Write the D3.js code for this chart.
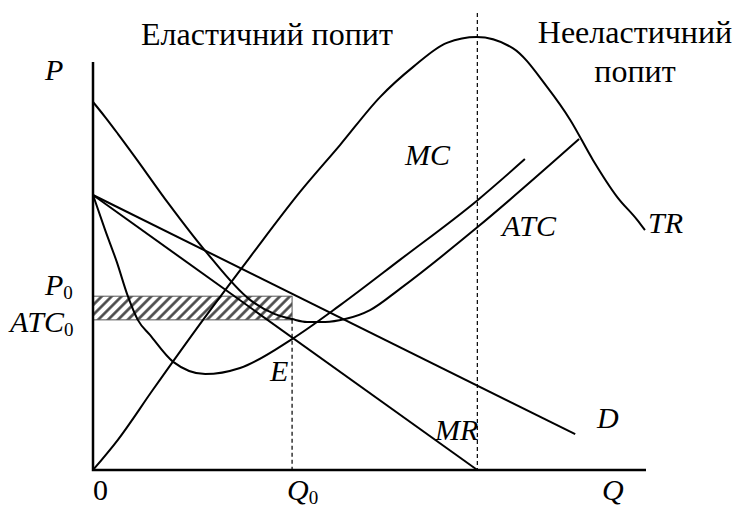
<!DOCTYPE html>
<html>
<head>
<meta charset="utf-8">
<script src="https://cdn.jsdelivr.net/npm/d3@7"></script>
</head>
<body style="margin:0">
<script>
const width = 736;
const height = 507;

// curve points as [Q, P]
const demand = [[0, 6.74], [8.72, 0.88]];
const marginalRevenue = [[0, 6.74], [6.95, 0]];
const totalRevenue = [
  [0, 0], [0.45, 0.74], [1.08, 1.96], [1.99, 3.68], [2.84, 5.22], [3.74, 6.81],
  [4.47, 7.97], [5.19, 9.14], [5.79, 9.88], [6.40, 10.47], [6.94, 10.61],
  [7.59, 10.34], [8.21, 9.39], [8.63, 8.58], [9.04, 7.60], [9.48, 6.69],
  [9.84, 6.13], [9.98, 5.88]
];
const marginalCost = [
  [0, 6.74], [0.22, 5.88], [0.43, 5.10], [0.63, 4.26], [0.81, 3.68], [1.03, 3.31],
  [1.45, 2.65], [2.03, 2.35], [2.66, 2.50], [3.60, 3.21], [4.47, 4.04],
  [5.55, 5.15], [6.96, 6.62], [7.81, 7.62]
];
const averageCost = [
  [0, 9.02], [0.22, 8.65], [0.45, 8.24], [0.76, 7.67], [1.36, 6.54], [2.03, 5.37],
  [2.84, 4.17], [3.29, 3.82], [3.60, 3.70], [3.87, 3.63], [4.20, 3.63],
  [4.56, 3.70], [5.01, 3.92], [5.55, 4.44], [6.96, 5.96], [8.79, 8.11]
];
const q0 = 3.6;
const p0 = 4.26;
const atc0 = 3.68;
const qUnit = 6.95;   // TR peak, MR = 0

const svg = d3.select("body")
  .append("svg")
  .attr("width", width)
  .attr("height", height);

const x = d3.scaleLinear().domain([0, 10]).range([93, 646]);
const y = d3.scaleLinear().domain([0, 10]).range([470, 62]);

const line = d3.line()
  .x(d => x(d[0]))
  .y(d => y(d[1]))
  .curve(d3.curveMonotoneX);

// hatch
svg.append("defs").append("pattern")
  .attr("id", "hatch")
  .attr("patternUnits", "userSpaceOnUse")
  .attr("width", 7)
  .attr("height", 7)
  .attr("patternTransform", "rotate(45)")
  .append("line")
  .attr("x1", 1.5).attr("y1", 0)
  .attr("x2", 1.5).attr("y2", 7)
  .attr("stroke", "#444")
  .attr("stroke-width", 2.6);

svg.append("rect")
  .attr("x", x(0))
  .attr("y", y(p0))
  .attr("width", x(q0) - x(0))
  .attr("height", y(atc0) - y(p0))
  .attr("fill", "url(#hatch)")
  .attr("stroke", "#555")
  .attr("stroke-width", 1);

// dashed guides
svg.append("line")
  .attr("x1", x(q0)).attr("x2", x(q0))
  .attr("y1", y(atc0)).attr("y2", y(0))
  .attr("stroke", "#000").attr("stroke-width", 1.2)
  .attr("stroke-dasharray", "4,3");

svg.append("line")
  .attr("x1", x(qUnit)).attr("x2", x(qUnit))
  .attr("y1", y(11.2)).attr("y2", y(0))
  .attr("stroke", "#000").attr("stroke-width", 1.2)
  .attr("stroke-dasharray", "4,3");

// curves
[demand, marginalRevenue, totalRevenue, marginalCost, averageCost].forEach(c => {
  svg.append("path")
    .attr("d", line(c))
    .attr("fill", "none")
    .attr("stroke", "#000")
    .attr("stroke-width", 2);
});

// axes
svg.append("path")
  .attr("d", `M${x(0)},${y(10)}V${y(0)}H${x(10)}`)
  .attr("fill", "none")
  .attr("stroke", "#000")
  .attr("stroke-width", 2.5);

// labels
function label(tx, ty, txt, sub, italic = true) {
  const t = svg.append("text")
    .attr("x", tx).attr("y", ty)
    .attr("font-size", 30)
    .attr("font-family", "Liberation Serif")
    .style("font-family", "'Liberation Serif'")
    .attr("font-style", italic ? "italic" : "normal")
    .text(txt);
  if (sub) {
    t.append("tspan")
      .attr("font-size", 19)
      .attr("font-style", "normal")
      .attr("dy", 4)
      .text(sub);
  }
  return t;
}

label(45, 80, "P");
label(45, 295, "P", "0");
label(10, 332, "ATC", "0");
label(x(q0) - 22, 381, "E");
label(435, 440, "MR");
label(597, 428, "D");
label(405, 165, "MC");
label(502, 236, "ATC");
label(648, 233, "TR");
label(93, 500, "0", null, false);
label(x(q0) - 5, 500, "Q", "0");
label(602, 500, "Q");

[["Еластичний попит", 267, 45], ["Нееластичний", 635, 43], ["попит", 635, 82]]
  .forEach(([s, tx, ty]) => {
    svg.append("text")
      .attr("x", tx).attr("y", ty)
      .attr("text-anchor", "middle")
      .attr("font-size", 32)
      .attr("font-family", "Liberation Serif")
      .style("font-family", "'Liberation Serif'")
      .text(s);
  });
</script>
</body>
</html>
